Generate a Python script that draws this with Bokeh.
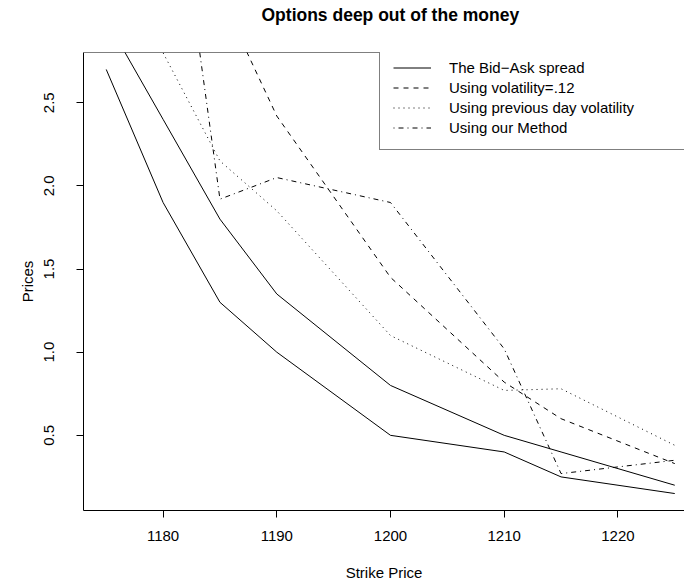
from bokeh.plotting import figure
from bokeh.models import Range1d, FixedTicker, Legend, LegendItem, Span, PrintfTickFormatter, Title
from bokeh.embed import file_html
from bokeh.resources import INLINE

# ---- data ----
strike = [1175, 1180, 1185, 1190, 1200, 1210, 1215, 1225]
bid_low = [2.70, 1.90, 1.30, 1.00, 0.50, 0.40, 0.25, 0.15]
ask_high = [3.00, 2.40, 1.80, 1.35, 0.80, 0.50, 0.40, 0.20]
vol_fixed = [4.80, 4.00, 3.15, 2.42, 1.45, 0.82, 0.60, 0.33]
vol_prev = [3.40, 2.80, 2.15, 1.85, 1.10, 0.77, 0.78, 0.44]
our_method = [5.00, 4.40, 1.92, 2.05, 1.90, 1.02, 0.27, 0.35]

title_text = "Options deep out of the money"
x_label = "Strike Price"
y_label = "Prices"
legend_labels = ["The Bid\u2212Ask spread", "Using volatility=.12",
                 "Using previous day volatility", "Using our Method"]
x_ticks = [1180, 1190, 1200, 1210, 1220]
y_ticks = [0.5, 1.0, 1.5, 2.0, 2.5]

FONT = "Liberation Sans"

# R-style ranges: 4% padding on the first series
x0, x1 = min(strike), max(strike)
y0, y1 = min(bid_low), max(bid_low)
xpad = 0.04 * (x1 - x0)
ypad = 0.04 * (y1 - y0)
frame_w = 601
full_w = 614  # full R plot width (cropped at the right in the reference)
x_start = x0 - xpad
x_end = x_start + (x1 - x0 + 2 * xpad) * frame_w / full_w

p = figure(width=684, height=588, output_backend="svg", toolbar_location=None,
           x_range=Range1d(x_start, x_end), y_range=Range1d(y0 - ypad, y1 + ypad),
           min_border_left=83, min_border_right=0, min_border_top=50, min_border_bottom=78)
p.outline_line_color = None
p.xgrid.visible = False
p.ygrid.visible = False
p.background_fill_color = "white"
p.border_fill_color = "white"

# empty spacer between the frame and the title, so the title sits near the top
p.add_layout(Title(text=" ", text_font=FONT, text_font_size="17.5px", standoff=0), "above")

# title
p.title.text = title_text
p.title.text_font = FONT
p.title.text_font_size = "17.5px"
p.title.text_font_style = "bold"
p.title.text_color = "black"
p.title.align = "left"
p.title.offset = 178
p.title.vertical_align = "top"
p.title.standoff = 8

# axes
for ax in (p.xaxis[0], p.yaxis[0]):
    ax.axis_line_color = "black"
    ax.axis_line_width = 1
    ax.major_tick_line_color = "black"
    ax.major_tick_in = 0
    ax.major_tick_out = 7
    ax.minor_tick_line_color = None
    ax.major_label_text_font = FONT
    ax.major_label_text_font_size = "15px"
    ax.major_label_text_color = "black"
    ax.axis_label_text_font = FONT
    ax.axis_label_text_font_size = "15px"
    ax.axis_label_text_font_style = "normal"
    ax.axis_label_text_color = "black"

p.xaxis[0].ticker = FixedTicker(ticks=x_ticks)
p.xaxis[0].major_label_standoff = 13
p.xaxis[0].axis_label = x_label
p.xaxis[0].axis_label_standoff = 20

p.yaxis[0].ticker = FixedTicker(ticks=y_ticks)
p.yaxis[0].formatter = PrintfTickFormatter(format="%.1f")
p.yaxis[0].major_label_orientation = "vertical"
p.yaxis[0].major_label_standoff = 22
p.yaxis[0].axis_label = y_label
p.yaxis[0].axis_label_standoff = 6

# top border of the plotting box
p.add_layout(Span(location=y1 + ypad, dimension="width", line_color="black", line_width=1))

# series
r1 = p.line(strike, bid_low, line_color="black", line_width=1)
p.line(strike, ask_high, line_color="black", line_width=1)
r2 = p.line(strike, vol_fixed, line_color="black", line_width=1, line_dash="5 5")
r3 = p.line(strike, vol_prev, line_color="black", line_width=1, line_dash="1 4")
r4 = p.line(strike, our_method, line_color="black", line_width=1, line_dash="1 4 5 4")

legend = Legend(items=[LegendItem(label=legend_labels[0], renderers=[r1]),
                       LegendItem(label=legend_labels[1], renderers=[r2]),
                       LegendItem(label=legend_labels[2], renderers=[r3]),
                       LegendItem(label=legend_labels[3], renderers=[r4])],
                location=(296, 360), margin=0, padding=13, spacing=3,
                glyph_width=38, glyph_height=15, label_height=15, label_width=260,
                label_standoff=18, label_text_font=FONT, label_text_font_size="15px",
                label_text_color="black", border_line_color="black", border_line_width=1,
                background_fill_color="white", background_fill_alpha=1.0)
p.add_layout(legend)

open("out.html", "w").write(file_html(p, INLINE))
